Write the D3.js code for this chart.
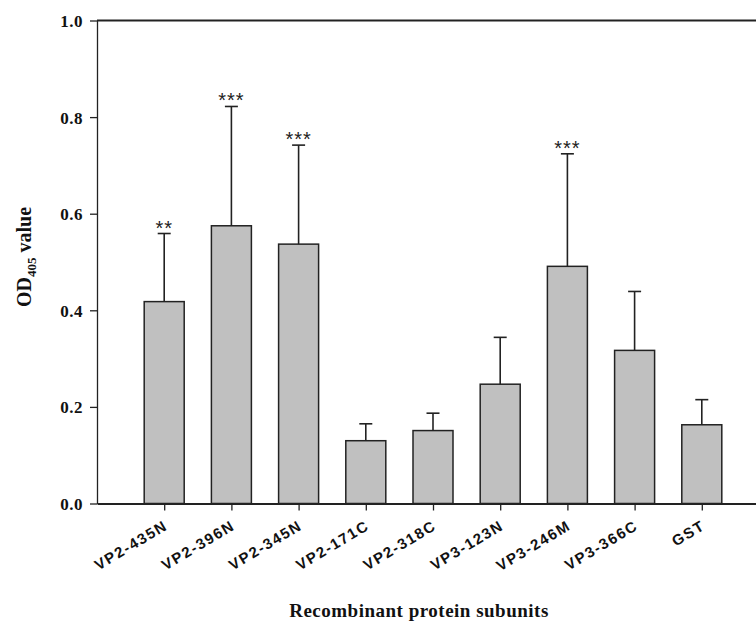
<!DOCTYPE html>
<meta charset="utf-8">
<style>
body{
    margin:0;
    background:white;
}
.yaxis text{
    font-family:"Liberation Serif", "Times New Roman", serif;
    font-weight:bold;
    font-size:17px;
    letter-spacing:0.5px;
    fill:#111;
}
.xaxis text{
    font-family:"Liberation Sans", Arial, sans-serif;
    font-weight:bold;
    font-size:15px;
    letter-spacing:1.6px;
    fill:#111;
}
.title{
    font-family:"Liberation Serif", "Times New Roman", serif;
    font-weight:bold;
    font-size:19px;
    fill:#111;
}
.bar{
    fill:#c0c0c0;
    stroke:#222;
    stroke-width:1.5px;
}
.err{
    stroke:#222;
    stroke-width:1.6px;
}
.stars{
    font-family:"Liberation Sans", Arial, sans-serif;
    font-size:20px;
    letter-spacing:1px;
    text-anchor:middle;
    fill:#222;
}
</style>
<body>
<script src="https://cdn.jsdelivr.net/npm/d3@7"></script>
<script>
var categories = ["VP2-435N","VP2-396N","VP2-345N","VP2-171C","VP2-318C","VP3-123N","VP3-246M","VP3-366C","GST"];
var means = [0.418, 0.575, 0.537, 0.130, 0.151, 0.247, 0.491, 0.317, 0.163];
var errUp = [0.141, 0.247, 0.205, 0.035, 0.036, 0.097, 0.233, 0.122, 0.052];
var stars = ["**","***","***","","","","***","",""];
var yTicks = [0, 0.2, 0.4, 0.6, 0.8, 1.0];

var W = 756, H = 626;
var svg = d3.select("body").append("svg").attr("width", W).attr("height", H);

var y = d3.scaleLinear().domain([0, 1]).range([503.5, 20.5]);
var x = d3.scaleLinear().domain([0, 10]).range([97, 769]);
var barW = 40;

// bars
svg.append("g").selectAll("rect")
    .data(means).enter().append("rect")
    .attr("class", "bar")
    .attr("x", function(d, i){ return x(i + 1) - barW / 2; })
    .attr("y", function(d){ return y(d); })
    .attr("width", barW)
    .attr("height", function(d){ return y(0) - y(d); });

// error bars (upper only)
var eg = svg.append("g");
means.forEach(function(m, i){
    var cx = x(i + 1), top = y(m + errUp[i]);
    eg.append("line").attr("class", "err")
        .attr("x1", cx).attr("x2", cx).attr("y1", y(m)).attr("y2", top);
    eg.append("line").attr("class", "err")
        .attr("x1", cx - 6.5).attr("x2", cx + 6.5).attr("y1", top).attr("y2", top);
    if(stars[i]){
        eg.append("text").attr("class", "stars")
            .attr("x", cx).attr("y", top + 1)
            .text(stars[i]);
    }
});

// axes
var yAxis = svg.append("g").attr("class", "yaxis")
    .attr("transform", "translate(97,0)")
    .call(d3.axisLeft(y).tickValues(yTicks).tickFormat(d3.format(".1f")).tickSize(7).tickSizeOuter(0));
yAxis.select(".domain").attr("stroke", "#222").attr("stroke-width", 1.3);
yAxis.selectAll(".tick line").attr("stroke", "#222").attr("stroke-width", 1.3);
yAxis.selectAll(".tick text").attr("x", -14).attr("dy", "0.35em");

var xAxis = svg.append("g").attr("class", "xaxis")
    .attr("transform", "translate(0," + y(0) + ")")
    .call(d3.axisBottom(x).tickValues(d3.range(1, 10))
        .tickFormat(function(d){ return categories[d - 1]; })
        .tickSize(7).tickSizeOuter(0));
xAxis.select(".domain").attr("stroke", "#222").attr("stroke-width", 2);
xAxis.selectAll(".tick line").attr("stroke", "#222").attr("stroke-width", 1.3);
xAxis.selectAll(".tick text")
    .attr("x", 0).attr("y", 0).attr("dy", 0)
    .attr("text-anchor", "end")
    .attr("transform", "translate(4,25) rotate(-31)");

// top frame line
svg.append("line")
    .attr("x1", x(0)).attr("x2", x(10))
    .attr("y1", y(1)).attr("y2", y(1))
    .attr("stroke", "#222").attr("stroke-width", 2);

// titles
svg.append("text").attr("class", "title")
    .attr("x", 419).attr("y", 617)
    .attr("text-anchor", "middle")
    .style("letter-spacing", "0.5px")
    .text("Recombinant protein subunits");

var yt = svg.append("text").attr("class", "title")
    .attr("text-anchor", "middle")
    .style("font-size", "20px")
    .attr("transform", "translate(31,257) rotate(-90)");
yt.append("tspan").text("OD");
yt.append("tspan").attr("dy", 5).style("font-size", "13px").text("405");
yt.append("tspan").attr("dy", -5).text(" value");
</script>
</body>
